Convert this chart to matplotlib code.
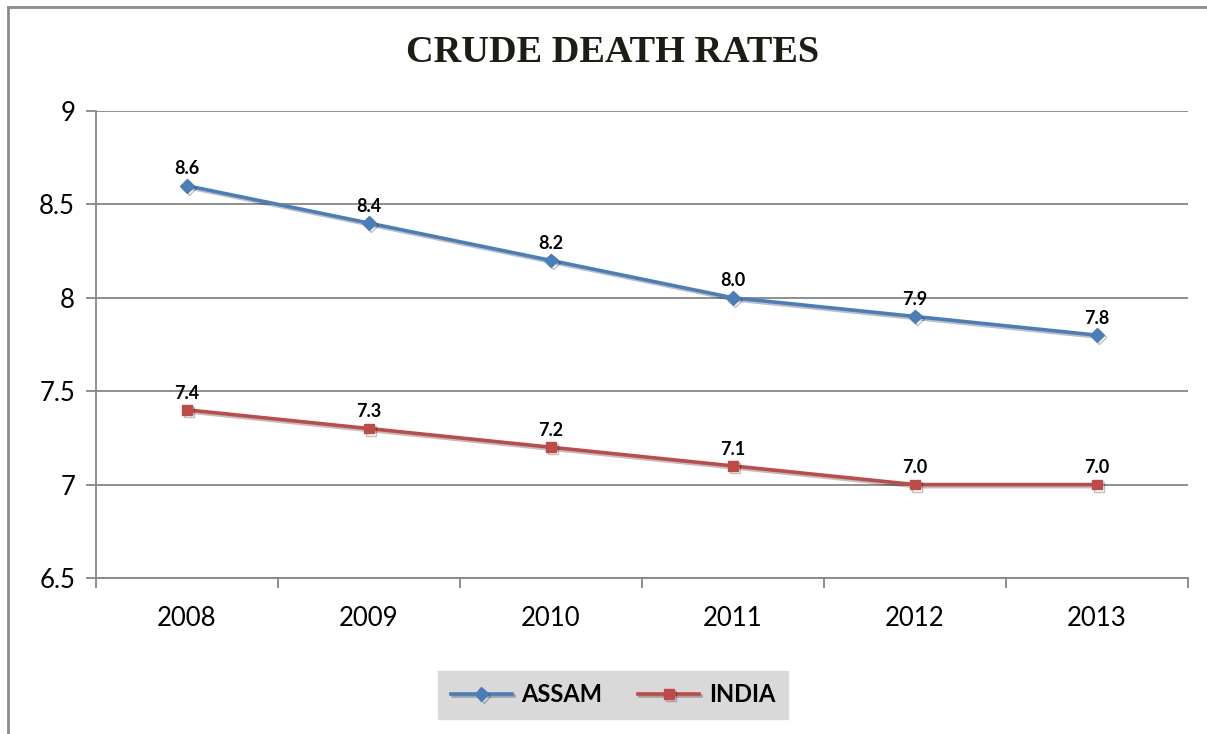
import matplotlib.pyplot as plt
from matplotlib.lines import Line2D
import matplotlib.patheffects as pe

years = ['2008', '2009', '2010', '2011', '2012', '2013']
assam = [8.6, 8.4, 8.2, 8.0, 7.9, 7.8]
india = [7.4, 7.3, 7.2, 7.1, 7.0, 7.0]

plt.rcParams['font.family'] = ['Lato', 'DejaVu Sans']

fig = plt.figure(figsize=(12.07, 7.34), dpi=100)
ax = fig.add_axes([96/1207, 1-578/734, (1188-96)/1207, (578-111)/734])

x = range(len(years))
shadow = [pe.SimpleLineShadow(offset=(1.5, -1.5), alpha=0.25), pe.Normal()]
ax.plot(x, assam, color='#4a7ebb', lw=2.6, marker='D', ms=7, label='ASSAM', path_effects=shadow)
ax.plot(x, india, color='#be4b48', lw=2.6, marker='s', ms=7, label='INDIA', path_effects=shadow)

# value labels above the points
for i in x:
    ax.annotate(f'{assam[i]:.1f}', (i, assam[i]), xytext=(0, 6), textcoords='offset points',
                ha='center', va='bottom', fontsize=13, fontweight='bold')
    ax.annotate(f'{india[i]:.1f}', (i, india[i]), xytext=(0, 6), textcoords='offset points',
                ha='center', va='bottom', fontsize=13, fontweight='bold')

ax.set_xlim(-0.5, 5.5)
ax.set_ylim(6.5, 9)
ax.set_yticks([6.5, 7, 7.5, 8, 8.5, 9])
ax.set_yticklabels(['6.5', '7', '7.5', '8', '8.5', '9'])
ax.set_xticks(list(x))
ax.set_xticklabels(years)
ax.set_xticks([i - 0.5 for i in range(7)], minor=True)
ax.tick_params(axis='x', which='major', length=0, pad=20, labelsize=18.5)
ax.tick_params(axis='x', which='minor', length=7, color='#868686', width=1.3)
ax.tick_params(axis='y', length=7, color='#868686', width=1.3, labelsize=18.5, pad=8)
ax.grid(axis='y', color='#868686', lw=1.3)
ax.set_axisbelow(True)
for s in ['top', 'right']:
    ax.spines[s].set_visible(False)
for s in ['left', 'bottom']:
    ax.spines[s].set_color('#868686')
    ax.spines[s].set_linewidth(1.3)

fig.text(613/1207, 1-53/734, 'CRUDE DEATH RATES', ha='center', va='center',
         fontsize=27.5, fontweight='bold', family='Liberation Serif', color='#1d1d14')

leg = fig.legend(loc='center', bbox_to_anchor=(613/1207, 1-695/734), ncol=2, frameon=True,
                 fancybox=False, prop={'weight': 'bold', 'size': 17}, handlelength=2.6,
                 columnspacing=1.5, borderpad=0.55, handletextpad=0.4)
leg.get_frame().set_facecolor('#d9d9d9')
leg.get_frame().set_edgecolor('#d9d9d9')
leg.get_frame().set_alpha(1)

# outer border of chart area
fig.add_artist(Line2D([8/1207, 8/1207], [0, 1-7/734], color='#8c8c8c', lw=2))
fig.add_artist(Line2D([8/1207, 1], [1-7/734, 1-7/734], color='#8c8c8c', lw=2))

fig.savefig('out.png', dpi=100)
